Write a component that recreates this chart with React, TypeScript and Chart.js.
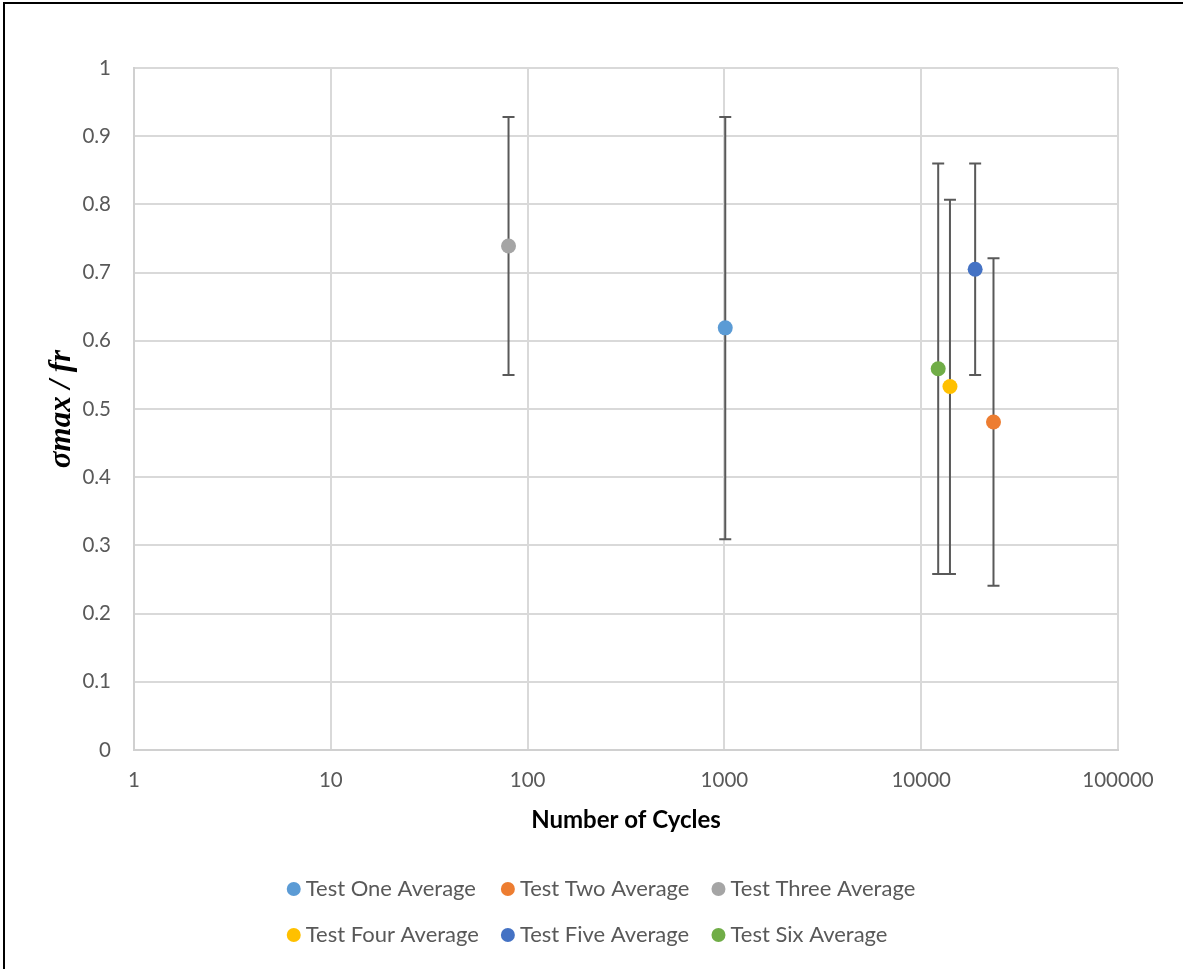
import { useEffect, useRef } from 'react';
import { Chart, registerables } from 'chart.js';

Chart.register(...registerables);

const seriesLabels = [
  'Test One Average',
  'Test Two Average',
  'Test Three Average',
  'Test Four Average',
  'Test Five Average',
  'Test Six Average',
];
const cycles = [1010, 23300, 80, 14000, 18800, 12200];
const ratio = [0.619, 0.481, 0.739, 0.533, 0.705, 0.559];
const errLow = [0.309, 0.241, 0.55, 0.258, 0.55, 0.258];
const errHigh = [0.928, 0.721, 0.928, 0.807, 0.86, 0.86];
const seriesColors = ['#5B9BD5', '#ED7D31', '#A5A5A5', '#FFC000', '#4472C4', '#70AD47'];
const xTickValues = [1, 10, 100, 1000, 10000, 100000];
const legendRows = [
  [0, 1, 2],
  [3, 4, 5],
];

const FONT = 'Lato';

const errorBarPlugin = {
  id: 'errorBars',
  beforeDatasetsDraw(chart: any) {
    const { ctx } = chart;
    const x = chart.scales.x;
    const y = chart.scales.y;
    ctx.save();
    ctx.strokeStyle = '#595959';
    ctx.lineWidth = 2;
    chart.data.datasets.forEach((ds: any) => {
      ds.data.forEach((p: any) => {
        const px = x.getPixelForValue(p.x);
        const top = y.getPixelForValue(p.yMax);
        const bot = y.getPixelForValue(p.yMin);
        ctx.beginPath();
        ctx.moveTo(px, top);
        ctx.lineTo(px, bot);
        ctx.moveTo(px - 6, top);
        ctx.lineTo(px + 6, top);
        ctx.moveTo(px - 6, bot);
        ctx.lineTo(px + 6, bot);
        ctx.stroke();
      });
    });
    ctx.restore();
  },
};

const legendPlugin = {
  id: 'gridLegend',
  afterDraw(chart: any) {
    const { ctx } = chart;
    const datasets = chart.data.datasets;
    ctx.save();
    ctx.font = `22px ${FONT}`;
    ctx.textBaseline = 'middle';
    ctx.textAlign = 'left';
    const r = 7;
    const gapCircleText = 5;
    const colGap = 22;
    const itemW = (i: number) => 2 * r + gapCircleText + ctx.measureText(datasets[i].label).width;
    const nCols = Math.max(...legendRows.map((row) => row.length));
    const colWidths: number[] = [];
    for (let c = 0; c < nCols; c++) {
      colWidths[c] = Math.max(...legendRows.filter((row) => row[c] !== undefined).map((row) => itemW(row[c])));
    }
    const total = colWidths.reduce((a, b) => a + b, 0) + colGap * (nCols - 1);
    const left0 = 601 - total / 2;
    const rowY = [889, 935];
    legendRows.forEach((row, ri) => {
      let xx = left0;
      row.forEach((idx, c) => {
        const ds = datasets[idx];
        ctx.fillStyle = ds.backgroundColor;
        ctx.beginPath();
        ctx.arc(xx + r, rowY[ri], r, 0, Math.PI * 2);
        ctx.fill();
        ctx.fillStyle = '#595959';
        ctx.fillText(ds.label, xx + 2 * r + gapCircleText, rowY[ri]);
        xx += colWidths[c] + colGap;
      });
    });
    ctx.restore();
  },
};

export default function App() {
  const canvasRef = useRef<HTMLCanvasElement | null>(null);

  useEffect(() => {
    document.body.style.margin = '0';
    const canvas = canvasRef.current;
    if (!canvas) return;
    const datasets = seriesLabels.map((label, i) => ({
      label,
      data: [{ x: cycles[i], y: ratio[i], yMin: errLow[i], yMax: errHigh[i] }],
      backgroundColor: seriesColors[i],
      borderColor: seriesColors[i],
      pointRadius: 7.5,
      pointHoverRadius: 7.5,
      pointBorderWidth: 0,
      showLine: false,
    }));

    const chart = new Chart(canvas, {
      type: 'scatter',
      data: { datasets },
      plugins: [errorBarPlugin, legendPlugin],
      options: {
        animation: false,
        responsive: false,
        maintainAspectRatio: false,
        layout: { padding: { top: 68, right: 65, left: 0, bottom: 0 } },
        plugins: {
          legend: { display: false },
          tooltip: { enabled: false },
        },
        scales: {
          x: {
            type: 'logarithmic',
            min: 1,
            max: 100000,
            afterBuildTicks: (s: any) => {
              s.ticks = xTickValues.map((v) => ({ value: v }));
            },
            afterFit: (s: any) => {
              s.height = 219;
            },
            ticks: {
              autoSkip: false,
              maxRotation: 0,
              padding: 18,
              color: '#595959',
              font: { family: FONT, size: 20.5 },
              callback: (v: any) => String(v),
            },
            grid: { color: '#D9D9D9', lineWidth: 2, drawTicks: false },
            border: { color: '#D0D0D0', width: 2 },
            title: {
              display: true,
              text: 'Number of Cycles',
              color: '#000000',
              font: { family: FONT, size: 24, weight: 'bold' },
              padding: { top: 0, bottom: 134 },
            },
          },
          y: {
            type: 'linear',
            min: 0,
            max: 1,
            afterFit: (s: any) => {
              s.width = 134;
            },
            ticks: {
              stepSize: 0.1,
              padding: 23,
              color: '#595959',
              font: { family: FONT, size: 20.5 },
              callback: (v: any) => String(parseFloat(Number(v).toFixed(2))),
            },
            grid: { color: '#D9D9D9', lineWidth: 2, drawTicks: false },
            border: { color: '#D0D0D0', width: 2 },
            title: {
              display: true,
              text: 'σmax / fr',
              color: '#000000',
              font: { family: 'Liberation Serif', size: 31, style: 'italic', weight: 'bold' },
              padding: { top: 43, bottom: 0 },
            },
          },
        },
      } as any,
    });
    return () => chart.destroy();
  }, []);

  return (
    <div style={{ position: 'relative', width: 1183, height: 969, overflow: 'hidden', background: '#fff' }}>
      <canvas ref={canvasRef} width={1183} height={969} style={{ display: 'block', width: 1183, height: 969 }} />
      <div
        style={{
          position: 'absolute',
          left: 3,
          top: 2,
          width: 1200,
          height: 1000,
          borderLeft: '2px solid #000',
          borderTop: '2px solid #000',
          pointerEvents: 'none',
        }}
      />
    </div>
  );
}
